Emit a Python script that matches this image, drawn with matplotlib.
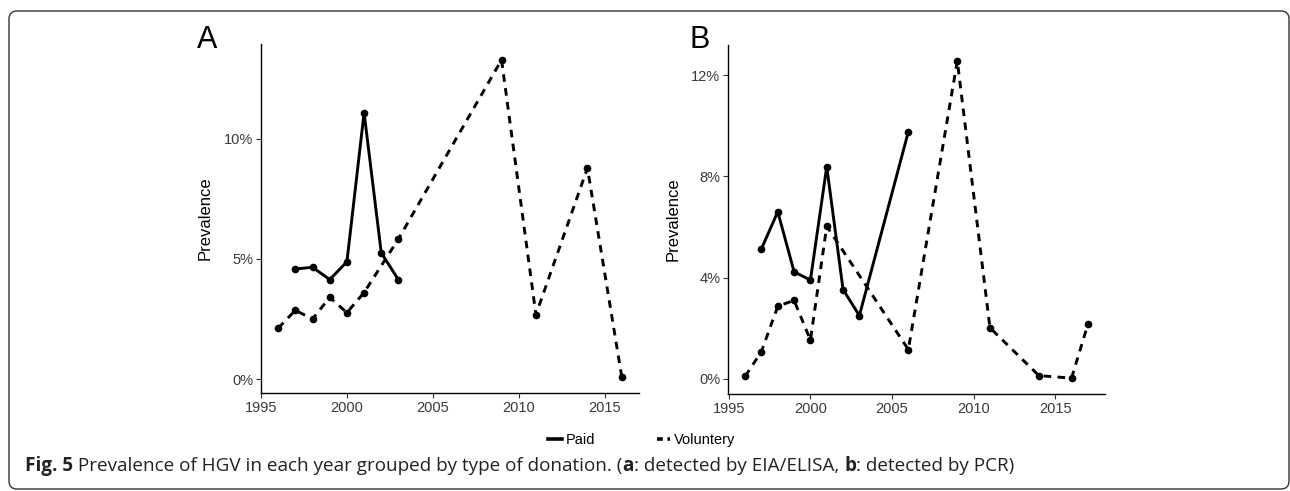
import matplotlib
matplotlib.use("Agg")
import matplotlib.pyplot as plt
from matplotlib.patches import FancyBboxPatch
from matplotlib.lines import Line2D
from matplotlib.ticker import FuncFormatter

plt.rcParams['font.family'] = ['Liberation Sans', 'DejaVu Sans']

# panel A: EIA/ELISA
a_paid_years = [1997, 1998, 1999, 2000, 2001, 2002, 2003]
a_paid_prev = [4.58, 4.65, 4.14, 4.88, 11.08, 5.25, 4.13]
a_vol_years = [1996, 1997, 1998, 1999, 2000, 2001, 2003, 2009, 2011, 2014, 2016]
a_vol_prev = [2.12, 2.86, 2.50, 3.40, 2.76, 3.60, 5.83, 13.28, 2.68, 8.78, 0.08]

# panel B: PCR
b_paid_years = [1997, 1998, 1999, 2000, 2001, 2002, 2003, 2006]
b_paid_prev = [5.14, 6.60, 4.23, 3.90, 8.38, 3.53, 2.50, 9.76]
b_vol_years = [1996, 1997, 1998, 1999, 2000, 2001, 2006, 2009, 2011, 2014, 2016, 2017]
b_vol_prev = [0.10, 1.08, 2.87, 3.10, 1.53, 6.03, 1.16, 12.56, 2.02, 0.13, 0.03, 2.15]

year_ticks = [1995, 2000, 2005, 2010, 2015]
a_yticks = [0, 5, 10]
b_yticks = [0, 4, 8, 12]

W, H = 1290, 491
fig = plt.figure(figsize=(W / 100, H / 100), dpi=100)

# rounded frame around the figure
frame = FancyBboxPatch((9, 2), 1280, H - 13, boxstyle="round,pad=0,rounding_size=8",
                       transform=None, fill=False, ec="#333333", lw=1.0)
fig.patches.append(frame)

def px_axes(left, top, right, bottom):
    return fig.add_axes([left / W, 1 - bottom / H, (right - left) / W, (bottom - top) / H])

axA = px_axes(261, 44, 639, 393)
axB = px_axes(728, 45, 1105, 394)

def draw(ax, py, pv, vy, vv, yticks, letter, lx):
    ax.plot(py, pv, color="black", lw=2.1, marker="o", ms=4.5, solid_capstyle="butt")
    ax.plot(vy, vv, color="black", lw=2.1, ls=(0, (2.6, 2.2)), marker="o", ms=4.5)
    ax.margins(x=0.05, y=0.05)
    ax.set_xticks(year_ticks)
    ax.set_yticks(yticks)
    ax.yaxis.set_major_formatter(FuncFormatter(lambda v, p: f"{v:.0f}%"))
    for s in ["top", "right"]:
        ax.spines[s].set_visible(False)
    for s in ["left", "bottom"]:
        ax.spines[s].set_linewidth(1.0)
        ax.spines[s].set_color("black")
    ax.tick_params(length=3.5, width=0.8, color="#333333", labelcolor="#3a3a3a",
                   labelsize=10.5, pad=2)
    ax.set_ylabel("Prevalence", fontsize=12, color="black", labelpad=8)
    fig.text(lx / W, 1 - 40 / H, letter, fontsize=22, va="center", ha="left")

draw(axA, a_paid_years, a_paid_prev, a_vol_years, a_vol_prev, a_yticks, "A", 197)
draw(axB, b_paid_years, b_paid_prev, b_vol_years, b_vol_prev, b_yticks, "B", 689)

handles = [Line2D([], [], color="black", lw=2.6),
           Line2D([], [], color="black", lw=2.6, ls=(0, (1.6, 1.3)))]
fig.legend(handles, ["Paid", "Voluntery"], loc="center", bbox_to_anchor=(642 / W, 1 - 440 / H),
           ncol=2, frameon=False, handlelength=0.9, handletextpad=0.3, columnspacing=4.2,
           prop=dict(family=["Liberation Sans Narrow", "Liberation Sans", "DejaVu Sans"], size=10.5))

# caption with bold pieces
parts = [("Fig. 5", "bold"), (" Prevalence of HGV in each year grouped by type of donation. (", "normal"),
         ("a", "bold"), (": detected by EIA/ELISA, ", "normal"), ("b", "bold"),
         (": detected by PCR)", "normal")]
fig.canvas.draw()
renderer = fig.canvas.get_renderer()
x = 25
for txt, wt in parts:
    t = fig.text(x / W, 1 - 466 / H, txt, family=["Open Sans", "DejaVu Sans"], fontsize=13.6,
                 fontweight=wt, va="center", ha="left", color="#222222")
    bb = t.get_window_extent(renderer)
    x += bb.width

fig.savefig("out.png", dpi=100)
